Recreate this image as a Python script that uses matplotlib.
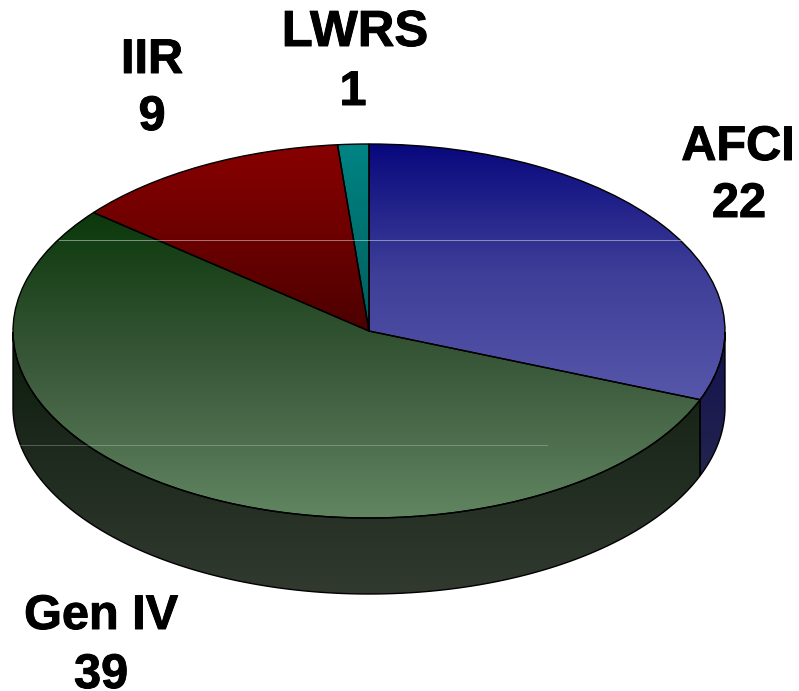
#!/usr/bin/env python3
import numpy as np
import matplotlib; matplotlib.use("Agg")
import matplotlib.pyplot as plt
import matplotlib.patheffects as pe
from matplotlib.colors import to_rgb
from matplotlib.patches import Polygon

plt.rcParams["font.family"] = ["Liberation Sans", "DejaVu Sans"]

labels = ["AFCI", "Gen IV", "IIR", "LWRS"]
values = [22, 39, 9, 1]

# gradient stops (top, middle, bottom) of each slice
top_colors = [("#08087e", "#3e3e98", "#5656aa"), ("#0b380b", "#3a583a", "#618561"),
              ("#880000", "#6c0000", "#4c0000"), ("#008484", "#007070", "#005c5c")]
side_colors = [("#12124e", "#22224f", "#323255"), ("#0c1c0c", "#1f2b1f", "#323a30"),
               ("#000000",) * 3, ("#000000",) * 3]
# baseline anchors in picture pixels
label_pos = [(738, 160), (101, 629), (152, 73), (355, 46)]
value_pos = [(739, 217), (101, 688), (152, 130), (353, 105)]
label_size = [35, 35, 35, 36.5]

W, H = 799, 691
CX, CY, RX, RY = 369, 331, 356, 187
DEPTH = 76 / RY
PAD = 0.03


def ramp(stops):
    rgb = np.array([to_rgb(c) for c in stops])
    pos = np.linspace(0, 1, len(stops))
    s = np.linspace(0, 1, 256)
    return np.stack([np.interp(s, pos, rgb[:, i]) for i in range(3)], axis=1)[:, None, :]


def fill(ax, patch, colors, ylo, yhi):
    im = ax.imshow(ramp(colors), extent=(-1, 1, ylo, yhi), aspect="auto",
                   origin="upper", interpolation="bilinear", zorder=2)
    im.set_clip_path(patch)


fig = plt.figure(figsize=(W / 100, H / 100), dpi=100)
fig.patch.set_facecolor("white")

# axes box is the ellipse + wall, a bit of padding so the outline isn't cut
x0 = CX - RX * (1 + PAD)
x1 = CX + RX * (1 + PAD)
y0 = CY - RY * (1 + PAD)
y1 = CY + RY * (1 + DEPTH + PAD)
ax = fig.add_axes([x0 / W, 1 - y1 / H, (x1 - x0) / W, (y1 - y0) / H])

wedges, _ = ax.pie(values, startangle=90, counterclock=False, radius=1,
                   wedgeprops=dict(edgecolor="black", linewidth=1.0))

for w, tc, sc in zip(wedges, top_colors, side_colors):
    t = np.radians(np.linspace(w.theta1, w.theta2, 300))
    w.set_facecolor("none")
    w.set_zorder(4)
    ys = np.r_[np.sin(t), 0]
    fill(ax, w, tc, ys.min(), ys.max())

    # outer wall, only where the rim faces the viewer
    low = t[np.sin(t) <= 0]
    if len(low) > 1:
        px, py = np.cos(low), np.sin(low)
        pts = np.r_[np.c_[px, py], np.c_[px, py - DEPTH][::-1]]
        wall = Polygon(pts, closed=True, facecolor="none", edgecolor="black",
                       linewidth=1.0, zorder=3)
        ax.add_patch(wall)
        fill(ax, wall, sc, -1 - DEPTH, 0)

# the faint horizontal hairlines across the pie
ax.plot([-0.87, 0.92], [(CY - 240) / RY] * 2, color="white", lw=0.7, alpha=0.45, zorder=5)
ax.plot([-0.98, 0.50], [(CY - 445) / RY] * 2, color="white", lw=0.7, alpha=0.25, zorder=5)

ax.set_xlim(-1 - PAD, 1 + PAD)
ax.set_ylim(-1 - DEPTH - PAD, 1 + PAD)
ax.set_axis_off()

heavy = [pe.withStroke(linewidth=0.7, foreground="black")]
for name, val, lp, vp, fs in zip(labels, values, label_pos, value_pos, label_size):
    fig.text(lp[0] / W, 1 - lp[1] / H, name, ha="center", va="baseline",
             fontsize=fs, fontweight="bold", color="black", path_effects=heavy)
    fig.text(vp[0] / W, 1 - vp[1] / H, str(val), ha="center", va="baseline",
             fontsize=35, fontweight="bold", color="black", path_effects=heavy)

fig.savefig("out.png", dpi=100)
plt.close(fig)
